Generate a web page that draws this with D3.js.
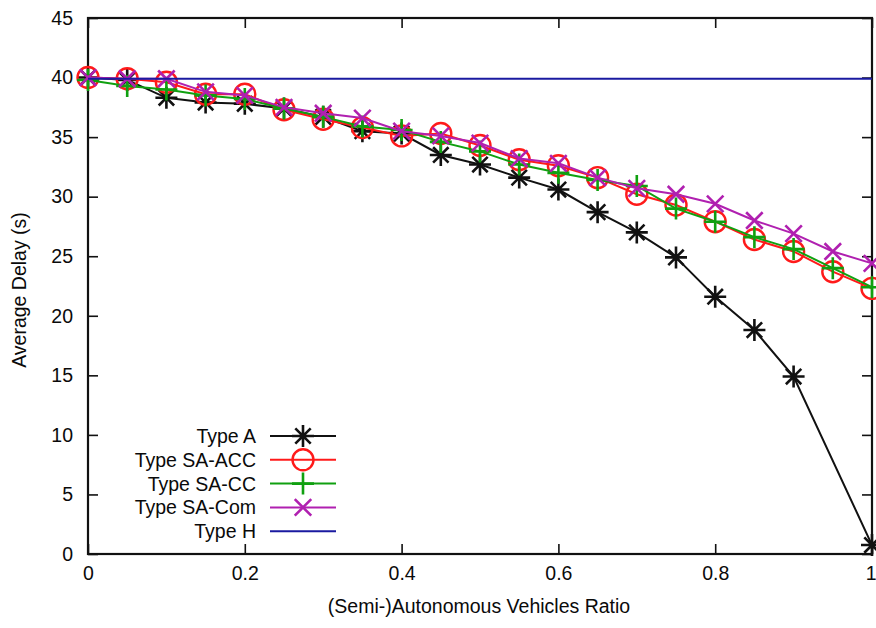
<!DOCTYPE html>
<html>
<head>
<meta charset="utf-8">
<script src="https://cdn.jsdelivr.net/npm/d3@7"></script>
<style>
  body { margin: 0; background: #fff; }
  svg text { font-family: "Liberation Sans", Arial, sans-serif; fill: #0a0a0a; }
</style>
</head>
<body>
<div id="chart"></div>
<script>
// values
var ratios = [0, 0.05, 0.1, 0.15, 0.2, 0.25, 0.3, 0.35, 0.4, 0.45, 0.5,
              0.55, 0.6, 0.65, 0.7, 0.75, 0.8, 0.85, 0.9, 0.95, 1];
var ratiosA = [0, 0.05, 0.1, 0.15, 0.2, 0.25, 0.3, 0.35, 0.4, 0.45, 0.5,
               0.55, 0.6, 0.65, 0.7, 0.75, 0.8, 0.85, 0.9, 1];

var typeA     = [40.0, 39.8, 38.3, 37.9, 37.8, 37.4, 36.7, 35.5, 35.3, 33.5, 32.7,
                 31.6, 30.6, 28.7, 27.0, 24.9, 21.6, 18.8, 14.9, 0.75];
var typeSAACC = [40.0, 39.9, 39.6, 38.6, 38.6, 37.3, 36.5, 35.8, 35.1, 35.3, 34.3,
                 33.1, 32.6, 31.6, 30.2, 29.3, 27.9, 26.4, 25.4, 23.7, 22.3];
var typeSACC  = [39.8, 39.3, 39.0, 38.5, 38.2, 37.4, 36.7, 35.9, 35.6, 34.6, 33.8,
                 32.7, 32.0, 31.4, 30.9, 29.0, 27.9, 26.6, 25.6, 24.0, 22.4];
var typeSACom = [40.0, 39.9, 39.9, 38.8, 38.5, 37.5, 37.0, 36.6, 35.5, 35.1, 34.5,
                 33.2, 32.8, 31.6, 30.7, 30.2, 29.4, 28.0, 26.9, 25.4, 24.4];
var typeH     = [39.9, 39.9];
var ratiosH   = [0, 1];

var xTicks = [0, 0.2, 0.4, 0.6, 0.8, 1];
var yTicks = [0, 5, 10, 15, 20, 25, 30, 35, 40, 45];

var series = [
  { name: "Type A",      xs: ratiosA, ys: typeA,     color: "#111111", mark: "star" },
  { name: "Type SA-ACC", xs: ratios,  ys: typeSAACC, color: "#ff1a1a", mark: "circle" },
  { name: "Type SA-CC",  xs: ratios,  ys: typeSACC,  color: "#10a010", mark: "plus" },
  { name: "Type SA-Com", xs: ratios,  ys: typeSACom, color: "#b020b0", mark: "cross" },
  { name: "Type H",      xs: ratiosH, ys: typeH,     color: "#1a1aa0", mark: null }
];

var svgWidth = 876, svgHeight = 628;
var margin = { top: 18, right: 4, bottom: 74, left: 88 };
var width = svgWidth - margin.left - margin.right;
var height = svgHeight - margin.top - margin.bottom;
var fontSize = 19.5;

var svg = d3.select("#chart")
  .append("svg")
  .attr("width", svgWidth)
  .attr("height", svgHeight);

var chartGroup = svg.append("g")
  .attr("transform", `translate(${margin.left}, ${margin.top})`);

var x = d3.scaleLinear().domain([0, 1]).range([0, width]);
var y = d3.scaleLinear().domain([0, 45]).range([height, 0]);

// inward ticks on all four sides, gnuplot style
chartGroup.append("g")
  .attr("transform", `translate(0, ${height})`)
  .call(d3.axisBottom(x).tickValues(xTicks).tickSize(-10).tickPadding(12).tickFormat(d3.format("")))
  .call(g => g.select(".domain").remove())
  .call(g => g.selectAll("text").attr("font-size", fontSize))
  // the "1" sits on the window edge, keep it inside
  .call(g => g.selectAll("text").filter(d => d == 1).attr("text-anchor", "end").attr("x", 4));

chartGroup.append("g")
  .call(d3.axisTop(x).tickValues(xTicks).tickSize(-10).tickFormat(""))
  .call(g => g.select(".domain").remove());

chartGroup.append("g")
  .call(d3.axisLeft(y).tickValues(yTicks).tickSize(-10).tickPadding(15))
  .call(g => g.select(".domain").remove())
  .call(g => g.selectAll("text").attr("font-size", fontSize));

chartGroup.append("g")
  .attr("transform", `translate(${width}, 0)`)
  .call(d3.axisRight(y).tickValues(yTicks).tickSize(-10).tickFormat(""))
  .call(g => g.select(".domain").remove());

chartGroup.selectAll(".tick line").attr("stroke", "#111").attr("stroke-width", 1.6);

chartGroup.append("rect")
  .attr("width", width)
  .attr("height", height)
  .attr("fill", "none")
  .attr("stroke", "#111")
  .attr("stroke-width", 2.2);

function markPath(kind, s) {
  if (kind == "star") return `M${-s},0H${s}M0,${-s}V${s}M${-s*0.7},${-s*0.7}L${s*0.7},${s*0.7}M${-s*0.7},${s*0.7}L${s*0.7},${-s*0.7}`;
  if (kind == "plus") return `M${-s},0H${s}M0,${-s}V${s}`;
  if (kind == "cross") return `M${-s*0.75},${-s*0.75}L${s*0.75},${s*0.75}M${-s*0.75},${s*0.75}L${s*0.75},${-s*0.75}`;
  return "";
}

function drawMark(g, kind, color, cx, cy) {
  if (kind == "circle") {
    g.append("circle").attr("cx", cx).attr("cy", cy).attr("r", 10.5)
      .attr("fill", "none").attr("stroke", color).attr("stroke-width", 2.4);
  } else if (kind) {
    g.append("path").attr("transform", `translate(${cx},${cy})`)
      .attr("d", markPath(kind, 11))
      .attr("fill", "none").attr("stroke", color).attr("stroke-width", 2.6);
  }
}

var line = d3.line().x(d => x(d[0])).y(d => y(d[1]));

series.forEach(function(s) {
  var pts = s.xs.map((v, i) => [v, s.ys[i]]);
  var g = chartGroup.append("g");
  g.append("path")
    .datum(pts)
    .attr("d", line)
    .attr("fill", "none")
    .attr("stroke", s.color)
    .attr("stroke-width", 2);
  if (s.mark) pts.forEach(p => drawMark(g, s.mark, s.color, x(p[0]), y(p[1])));
});

// legend
var legend = chartGroup.append("g").attr("transform", "translate(168, 418)");
series.forEach(function(s, i) {
  var row = legend.append("g").attr("transform", `translate(0, ${i * 23.8})`);
  row.append("text")
    .attr("x", 0).attr("y", 7)
    .attr("text-anchor", "end")
    .attr("font-size", fontSize)
    .text(s.name);
  row.append("line")
    .attr("x1", 14).attr("x2", 80)
    .attr("stroke", s.color).attr("stroke-width", 2);
  drawMark(row, s.mark, s.color, 47, 0);
});

// axis titles
svg.append("text")
  .attr("x", 479)
  .attr("y", 613)
  .attr("text-anchor", "middle")
  .attr("font-size", fontSize)
  .text("(Semi-)Autonomous Vehicles Ratio");

svg.append("text")
  .attr("transform", `translate(26, ${margin.top + height / 2 + 4}) rotate(-90)`)
  .attr("text-anchor", "middle")
  .attr("font-size", fontSize)
  .text("Average Delay (s)");
</script>
</body>
</html>
